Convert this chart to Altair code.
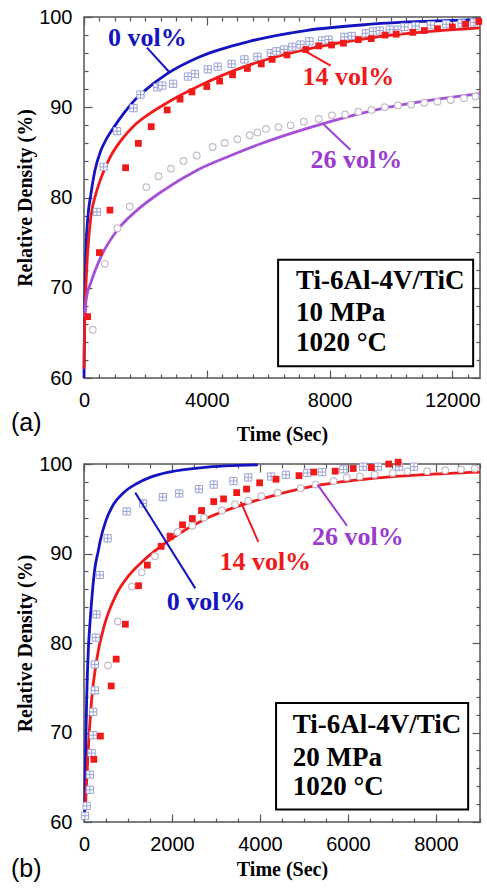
import altair as alt
import pandas as pd

# ---------------- panel (a): 10 MPa ----------------
a_fit0_x = [0, 10, 30, 65, 120, 226, 350, 548, 750, 977, 1300, 1600, 2000, 2700, 3774, 5387, 7226, 9355, 12900]
a_fit0_y = [60, 64, 69, 74.2, 77.6, 80.4, 82.9, 85.2, 86.6, 87.8, 89.35, 90.6, 91.9, 93.7, 95.6, 97.3, 98.5, 99.2, 99.7]
a_fit14_x = [0, 20, 60, 120, 226, 387, 548, 871, 1200, 1613, 2100, 2710, 3774, 5226, 7226, 9355, 12900]
a_fit14_y = [61, 65.5, 70, 74.0, 77.9, 80.4, 82.1, 84.6, 86.3, 87.9, 89.2, 90.5, 92.4, 94.5, 96.4, 97.7, 98.8]
a_fit26_x = [10, 80, 226, 548, 1086, 1731, 2591, 3667, 4742, 5710, 7215, 9366, 12900]
a_fit26_y = [66.8, 68.9, 70.6, 73.4, 76.4, 78.6, 80.8, 83.0, 84.6, 85.9, 87.6, 89.6, 91.5]

a_sq0_x = [420, 640, 1075, 1613, 1840, 2387, 2548, 2903, 3387, 3613, 4032, 4355, 4806, 5226, 5650,
           6086, 6268, 6516, 6784, 7054, 7344, 7752, 7968, 8484, 8720, 9183, 9419, 9635, 9957, 10226,
           10441, 10800, 11300, 11800, 12300, 12700]
a_sq0_y = [78.4, 83.4, 87.35, 89.9, 91.4, 92.2, 92.4, 92.6, 93.4, 93.7, 94.2, 94.5, 94.8, 95.3, 95.6,
           96.0, 96.2, 96.4, 96.7, 96.95, 97.3, 97.4, 97.5, 97.8, 97.9, 98.2, 98.4, 98.5, 98.6, 98.6,
           98.9, 99.0, 99.1, 99.2, 99.3, 99.4]
a_sq14_x = [118, 500, 845, 1355, 1770, 2190, 2710, 3129, 3516, 4000, 4419, 4839, 5323, 5774, 6129,
            6613, 7226, 7645, 8065, 8452, 8935, 9355, 9806, 10170, 10710, 11086, 11516, 12000, 12430, 12860]
a_sq14_y = [66.8, 73.9, 78.6, 83.3, 86.0, 87.85, 89.7, 90.9, 91.7, 92.3, 92.9, 93.6, 94.3, 94.8, 95.3,
            95.8, 96.4, 96.8, 96.9, 97.1, 97.5, 97.6, 98.0, 98.1, 98.3, 98.5, 98.7, 98.9, 99.2, 99.5]
a_c26_x = [285, 677, 1086, 1490, 2032, 2425, 2833, 3240, 3670, 4190, 4581, 4995, 5400, 5650, 5925,
           6333, 6731, 7161, 7645, 8075, 8505, 8935, 9366, 9796, 10226, 10656, 11086, 11516, 11946,
           12376, 12753]
a_c26_y = [65.35, 72.65, 76.6, 79.0, 81.15, 82.35, 83.2, 84.05, 84.65, 85.6, 86.05, 86.45, 86.9, 87.2, 87.6,
           87.8, 88.0, 88.4, 88.7, 89.1, 89.2, 89.5, 89.7, 90.0, 90.2, 90.3, 90.5, 90.6, 90.8, 91.0, 91.2]

# ---------------- panel (b): 20 MPa ----------------
b_fit0_x = [15, 37, 60, 97, 140, 187, 246, 321, 373, 500, 672, 900, 1194, 1500, 1940, 2687, 3950]
b_fit0_y = [61.0, 68.1, 73.6, 79.1, 82.5, 85.5, 88.3, 90.2, 91.5, 93.7, 95.5, 96.8, 97.8, 98.5, 99.1, 99.6, 99.9]
b_fit14_x = [30, 60, 97, 172, 284, 470, 732, 1030, 1328, 1589, 1940, 2687, 3700, 4328, 5298, 6566, 7685, 9000]
b_fit14_y = [61.5, 64.5, 68.1, 73.6, 78.0, 82.1, 85.4, 87.6, 89.1, 90.2, 91.5, 93.7, 95.6, 96.5, 97.6, 98.4, 98.8, 99.1]

b_sq0_x = [22, 60, 134, 134, 172, 209, 209, 246, 246, 269, 284, 358, 537, 970, 1343, 1791, 2164,
           2612, 2948, 3396, 3732, 4253, 4589, 5075, 5411, 5895, 6342, 6679, 7164, 7500]
b_sq0_y = [60.7, 61.8, 63.6, 65.3, 67.7, 69.7, 72.3, 74.7, 77.6, 80.6, 83.2, 87.6, 91.7, 94.7,
           95.6, 96.3, 96.7, 97.2, 97.7, 98.1, 98.5, 98.6, 98.8, 99.0, 99.1, 99.4, 99.7, 99.7, 99.7, 99.7]
b_sq14_x = [224, 373, 619, 732, 940, 1239, 1440, 1753, 1963, 2239, 2462, 2672, 2948, 3172, 3470, 3694,
            3992, 4365, 4887, 5223, 5709, 6119, 6530, 6925, 7140]
b_sq14_y = [67.0, 69.6, 75.2, 78.2, 82.1, 86.4, 88.7, 90.8, 91.9, 93.2, 93.9, 94.8, 95.8, 96.1, 96.8,
            97.2, 97.9, 98.3, 98.7, 99.1, 99.2, 99.5, 99.6, 100.0, 100.2]
b_c26_x = [545, 768, 1089, 1313, 1612, 1940, 2127, 2462, 2724, 3134, 3433, 3732, 4030, 4403, 4925,
           5261, 5671, 5970, 6268, 6604, 7015, 7350, 7799, 8209, 8568, 8881]
b_c26_y = [77.5, 82.4, 86.3, 87.9, 89.7, 92.0, 92.4, 93.1, 94.0, 94.8, 95.5, 95.9, 96.4, 96.8, 97.3,
           97.7, 98.1, 98.5, 98.6, 98.8, 99.0, 99.2, 99.2, 99.3, 99.4, 99.5]

# ---------------- text ----------------
series_labels = ["0 vol%", "14 vol%", "26 vol%"]
a_label_x = [2065, 8613, 8871]
a_label_y = [97.7, 93.3, 84.1]
a_ptr_x = [2050, 8032, 8677]
a_ptr_y = [96.6, 94.6, 85.3]
a_ptr_x2 = [2806, 7161, 7806]
a_ptr_y2 = [93.8, 96.3, 88.1]
b_label_x = [2776, 4119, 6224]
b_label_y = [84.6, 89.1, 91.8]
b_ptr_x = [2530, 3962, 5977]
b_ptr_y = [86.1, 91.3, 93.1]
b_ptr_x2 = [1164, 3560, 5306]
b_ptr_y2 = [96.8, 95.8, 97.7]

a_box_lines = ["Ti-6Al-4V/TiC", "10 MPa", "1020 °C"]
b_box_lines = ["Ti-6Al-4V/TiC", "20 MPa", "1020 °C"]
box_line_y = [70.8, 67.2, 63.9]
a_box = dict(x=6323, x2=12677, y=73.1, y2=61.3, tx=6903)
b_box = dict(x=4365, x2=8731, y=73.3, y2=61.4, tx=4746)
panel_tags = ["(a)", "(b)"]
x_title = "Time (Sec)"
y_title = "Relative Density (%)"

BLUE = "#1414c0"
RED = "#f01a1a"
PURPLE = "#a550d8"
PURPLE_TXT = "#9a3ccf"
SQ0_COLOR = "#9aa1d6"
C26_COLOR = "#c4bccb"
CROSS_SQUARE = "M-1,-1H1V1H-1Z M0,-1V1 M-1,0H1"
SERIF = "Liberation Serif"
SANS = "Liberation Sans"
FRAME = "#555555"


def panel(W, H, xdom, xmajor, xstep, fits, sq0, sq14, c26, lab, ptr, box_lines, box, tag, tag_dy,
          title_pad):
    xs = alt.Scale(domain=xdom, nice=False, zero=False)
    ys = alt.Scale(domain=[60, 100], nice=False, zero=False)
    ymajor = [60, 70, 80, 90, 100]
    yminor = [v for v in range(62, 100, 2) if v % 10]
    xminor = [v for v in range(0, xdom[1] + 1, xstep) if v % xmajor[1]]

    def enc(ch):
        return ch.encode(x=alt.X("x:Q", scale=xs, axis=None), y=alt.Y("y:Q", scale=ys, axis=None))

    layers = []
    for (fx, fy, col) in fits:
        layers.append(enc(alt.Chart(pd.DataFrame({"x": fx, "y": fy})).mark_line(
            color=col, strokeWidth=2.8, interpolate="monotone")))
    layers.append(enc(alt.Chart(pd.DataFrame({"x": c26[0], "y": c26[1]})).mark_point(
        shape="circle", size=44, fill="white", stroke=C26_COLOR, strokeWidth=1.2,
        opacity=1, fillOpacity=1)))
    layers.append(enc(alt.Chart(pd.DataFrame({"x": sq0[0], "y": sq0[1]})).mark_point(
        shape=CROSS_SQUARE, size=52, fill="white", stroke=SQ0_COLOR, strokeWidth=1,
        opacity=1, fillOpacity=1)))
    layers.append(enc(alt.Chart(pd.DataFrame({"x": sq14[0], "y": sq14[1]})).mark_square(
        size=46, color=RED, opacity=1)))

    # pointers and labels
    ptr_df = pd.DataFrame({"x": ptr[0], "y": ptr[1], "x2": ptr[2], "y2": ptr[3],
                           "color": [BLUE, RED, PURPLE_TXT]})
    layers.append(alt.Chart(ptr_df).mark_rule(strokeWidth=2).encode(
        x=alt.X("x:Q", scale=xs, axis=None), y=alt.Y("y:Q", scale=ys, axis=None),
        x2="x2:Q", y2="y2:Q", color=alt.Color("color:N", scale=None)))
    lab_df = pd.DataFrame({"x": lab[0], "y": lab[1], "t": series_labels,
                           "color": [BLUE, RED, PURPLE_TXT]})
    layers.append(alt.Chart(lab_df).mark_text(
        font=SERIF, fontWeight="bold", fontSize=26, align="center", baseline="middle").encode(
        x=alt.X("x:Q", scale=xs, axis=None), y=alt.Y("y:Q", scale=ys, axis=None),
        text="t:N", color=alt.Color("color:N", scale=None)))

    # box
    bdf = pd.DataFrame({"x": [box["x"]], "x2": [box["x2"]], "y": [box["y"]], "y2": [box["y2"]]})
    layers.append(alt.Chart(bdf).mark_rect(fill="white", stroke="black", strokeWidth=2).encode(
        x=alt.X("x:Q", scale=xs, axis=None), y=alt.Y("y:Q", scale=ys, axis=None),
        x2="x2:Q", y2="y2:Q"))
    tdf = pd.DataFrame({"x": [box["tx"]] * 3, "y": box_line_y, "t": box_lines})
    layers.append(alt.Chart(tdf).mark_text(
        font=SERIF, fontWeight="bold", fontSize=27, align="left", baseline="middle",
        color="black").encode(
        x=alt.X("x:Q", scale=xs, axis=None), y=alt.Y("y:Q", scale=ys, axis=None), text="t:N"))

    # panel tag
    layers.append(alt.Chart(pd.DataFrame({"t": [tag]})).mark_text(
        font=SANS, fontSize=25, align="left", baseline="middle", color="black").encode(
        x=alt.value(-73), y=alt.value(H + tag_dy), text="t:N"))

    # axes
    dummy = pd.DataFrame({"x": [xdom[0]], "y": [60]})

    def axis_layer(xa, ya):
        return alt.Chart(dummy).mark_point(opacity=0).encode(
            x=alt.X("x:Q", scale=xs, axis=xa), y=alt.Y("y:Q", scale=ys, axis=ya))

    lab_x = alt.Axis(orient="bottom", values=xmajor, ticks=False, domain=False, grid=False,
                     format="d", labelFlush=False, labelOverlap=False,
                     labelFont=SANS, labelFontSize=20, labelColor="black", labelPadding=12,
                     title=x_title, titleFont=SERIF, titleFontSize=20, titleFontWeight="bold",
                     titleColor="black", titlePadding=title_pad)
    lab_y = alt.Axis(orient="left", values=ymajor, ticks=False, domain=False, grid=False,
                     labelFont=SANS, labelFontSize=20, labelColor="black", labelPadding=12,
                     title=y_title, titleFont=SERIF, titleFontSize=20, titleFontWeight="bold",
                     titleColor="black", titlePadding=3)
    layers.append(axis_layer(lab_x, lab_y))

    def tick_axis(orient, offset, values, size):
        return alt.Axis(orient=orient, offset=offset, values=values, tickSize=size,
                        tickWidth=1.2, tickColor=FRAME, labels=False, domain=False,
                        grid=False, title=None)

    for (vx, vy, size) in [(xmajor, ymajor, 8), (xminor, yminor, 4)]:
        layers.append(axis_layer(tick_axis("top", -H, vx, size), tick_axis("right", -W, vy, size)))
        layers.append(axis_layer(tick_axis("bottom", -H, vx, size), tick_axis("left", -W, vy, size)))

    return alt.layer(*layers).resolve_axis(x="independent", y="independent").properties(
        width=W, height=H)


top = panel(396, 361, [0, 12900], [0, 4000, 8000, 12000], 500,
            [(a_fit0_x, a_fit0_y, BLUE), (a_fit14_x, a_fit14_y, RED), (a_fit26_x, a_fit26_y, PURPLE)],
            (a_sq0_x, a_sq0_y), (a_sq14_x, a_sq14_y), (a_c26_x, a_c26_y),
            (a_label_x, a_label_y), (a_ptr_x, a_ptr_y, a_ptr_x2, a_ptr_y2),
            a_box_lines, a_box, panel_tags[0], 45, 14)

bottom = panel(396, 358, [0, 9000], [0, 2000, 4000, 6000, 8000], 500,
               [(b_fit0_x, b_fit0_y, BLUE), (b_fit14_x, b_fit14_y, RED)],
               (b_sq0_x, b_sq0_y), (b_sq14_x, b_sq14_y), (b_c26_x, b_c26_y),
               (b_label_x, b_label_y), (b_ptr_x, b_ptr_y, b_ptr_x2, b_ptr_y2),
               b_box_lines, b_box, panel_tags[1], 47, 5)

chart = alt.vconcat(top, bottom, spacing=8).properties(
    padding={"left": 10, "top": 6, "right": 0, "bottom": 0}
).configure_view(stroke=FRAME, strokeWidth=1.5)

chart.save("out.html", embed_options={"renderer": "svg", "actions": False})
